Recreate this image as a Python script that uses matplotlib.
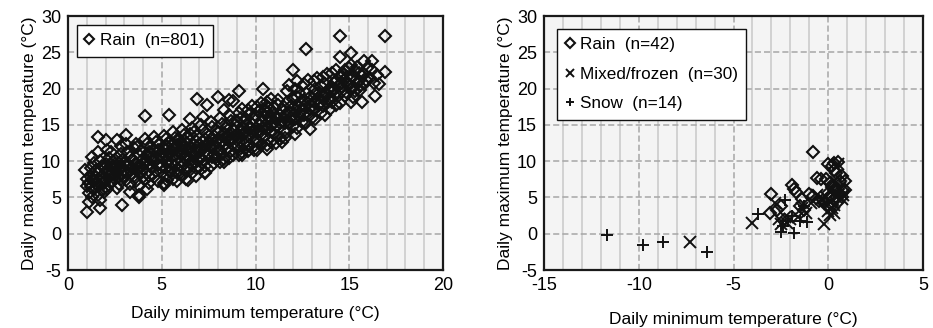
import numpy as np
import matplotlib.pyplot as plt
from matplotlib.ticker import MultipleLocator

plt.rcParams['font.family'] = ['Liberation Sans', 'DejaVu Sans']
plt.rcParams['axes.unicode_minus'] = False

# Left panel: rain days, (min temp, max temp)
rain_left = [
    # outliers / edges
    (16.9, 27.3), (14.5, 27.3), (12.7, 25.4), (15.1, 24.9), (14.5, 24.3), (16.2, 23.8),
    (15.8, 23.8), (16.9, 22.3), (12.0, 22.5), (16.6, 20.6), (16.4, 19.0), (15.7, 18.1),
    (15.1, 18.1), (14.3, 17.7), (12.9, 14.4), (12.1, 13.8), (11.4, 12.7), (10.6, 11.7),
    (10.4, 20.0), (9.1, 19.7), (8.0, 18.9), (8.6, 18.4), (6.9, 18.5), (7.4, 17.7),
    (5.4, 16.4), (4.1, 16.2), (6.5, 15.8), (7.2, 16.1), (3.1, 13.6), (1.6, 13.3),
    (2.0, 12.9), (2.6, 12.9), (1.3, 10.6), (1.6, 11.3), (0.9, 8.8), (1.0, 3.0),
    (1.1, 4.4), (1.7, 3.5), (2.9, 4.0), (3.8, 5.1), (7.3, 8.3), (8.3, 9.9),
    (6.4, 7.4), (5.1, 6.7), (4.2, 6.1), (9.3, 10.8), (9.9, 11.5),
    # band
    (1.0, 6.6), (1.1, 7.0), (1.2, 6.5), (1.0, 7.5), (1.3, 8.2), (1.1, 5.6), (1.4, 6.1),
    (1.2, 9.1), (1.5, 7.8), (1.3, 5.0), (1.4, 9.8), (1.5, 6.9),
    (1.6, 8.5), (1.7, 7.2), (1.8, 6.0), (1.6, 5.3), (1.9, 9.0), (1.7, 10.0), (1.8, 8.0),
    (2.0, 7.4), (1.9, 5.8), (2.0, 9.6), (1.7, 4.7), (2.0, 6.5),
    (2.1, 8.8), (2.2, 7.9), (2.3, 9.5), (2.1, 11.5), (2.4, 8.3), (2.2, 10.4), (2.3, 7.0),
    (2.5, 9.0), (2.4, 10.0), (2.1, 6.2), (2.5, 7.6), (2.3, 11.2),
    (2.6, 8.5), (2.7, 9.8), (2.8, 7.5), (2.6, 10.5), (2.9, 9.2), (2.7, 6.8), (3.0, 8.6),
    (2.8, 11.0), (2.9, 10.1), (3.0, 7.9), (2.6, 6.3), (2.8, 12.1),
    (3.1, 9.5), (3.2, 8.3), (3.3, 10.6), (3.1, 7.4), (3.4, 9.0), (3.2, 11.3), (3.5, 8.0),
    (3.3, 6.8), (3.4, 10.2), (3.5, 11.8), (3.1, 12.3), (3.3, 5.8),
    (3.6, 9.7), (3.7, 8.6), (3.8, 10.9), (3.6, 7.3), (3.9, 9.3), (3.7, 12.0), (4.0, 8.9),
    (3.8, 6.6), (3.9, 11.4), (4.0, 10.3), (3.6, 12.3), (3.8, 5.4),
    (4.1, 9.8), (4.2, 8.4), (4.3, 11.2), (4.1, 7.6), (4.4, 10.5), (4.2, 12.4), (4.5, 9.1),
    (4.3, 7.0), (4.4, 12.0), (4.5, 11.0), (4.1, 13.0), (4.3, 8.0),
    (4.6, 10.0), (4.7, 8.7), (4.8, 11.6), (4.6, 7.8), (4.9, 10.8), (4.7, 12.7), (5.0, 9.4),
    (4.8, 7.2), (4.9, 12.3), (5.0, 11.3), (4.6, 13.3), (4.8, 9.5),
    (5.1, 10.4), (5.2, 9.0), (5.3, 11.9), (5.1, 7.0), (5.4, 11.0), (5.2, 13.0), (5.5, 9.7),
    (5.3, 8.0), (5.4, 12.6), (5.5, 11.5), (5.1, 13.5), (5.3, 7.4), (5.2, 10.8), (5.4, 8.6),
    (5.6, 10.7), (5.7, 9.3), (5.8, 12.2), (5.6, 7.5), (5.9, 11.3), (5.7, 13.2), (6.0, 10.0),
    (5.8, 8.3), (5.9, 12.9), (6.0, 11.7), (5.6, 14.0), (5.8, 7.3), (5.7, 10.2), (5.9, 8.8),
    (6.1, 11.0), (6.2, 9.6), (6.3, 12.5), (6.1, 8.0), (6.4, 11.6), (6.2, 13.6), (6.5, 10.3),
    (6.3, 8.6), (6.4, 13.2), (6.5, 12.0), (6.1, 14.3), (6.3, 7.6), (6.2, 10.6), (6.4, 9.2),
    (6.6, 11.3), (6.7, 9.9), (6.8, 12.8), (6.6, 8.4), (6.9, 11.9), (6.7, 14.0), (7.0, 10.6),
    (6.8, 9.0), (6.9, 13.5), (7.0, 12.3), (6.6, 14.6), (6.8, 8.0), (6.7, 10.9),
    (7.1, 11.6), (7.2, 10.2), (7.3, 13.1), (7.1, 8.9), (7.4, 12.2), (7.2, 14.3), (7.5, 11.0),
    (7.3, 9.4), (7.4, 13.8), (7.5, 12.6), (7.1, 15.0), (7.3, 8.5),
    (7.6, 12.0), (7.7, 10.6), (7.8, 13.5), (7.6, 9.3), (7.9, 12.6), (7.7, 14.7), (8.0, 11.4),
    (7.8, 9.8), (7.9, 14.2), (8.0, 13.0), (7.6, 15.4), (7.8, 11.0),
    (8.1, 12.4), (8.2, 11.0), (8.3, 13.9), (8.1, 9.9), (8.4, 13.0), (8.2, 15.1), (8.5, 11.8),
    (8.3, 10.3), (8.4, 14.6), (8.5, 13.4), (8.1, 16.0), (8.3, 17.0),
    (8.6, 12.8), (8.7, 11.4), (8.8, 14.3), (8.6, 10.4), (8.9, 13.4), (8.7, 15.5), (9.0, 12.2),
    (8.8, 10.8), (8.9, 15.0), (9.0, 13.8), (8.6, 16.4), (8.8, 18.3),
    (9.1, 13.2), (9.2, 11.8), (9.3, 14.7), (9.1, 10.9), (9.4, 13.8), (9.2, 16.0), (9.5, 12.6),
    (9.3, 11.3), (9.4, 15.4), (9.5, 14.2), (9.1, 16.6), (9.3, 17.2),
    (9.6, 13.6), (9.7, 12.2), (9.8, 15.1), (9.6, 11.4), (9.9, 14.2), (9.7, 16.5), (10.0, 13.0),
    (9.8, 11.8), (9.9, 15.8), (10.0, 14.6), (9.6, 17.0), (9.8, 17.6),
    (10.1, 14.0), (10.2, 12.6), (10.3, 15.5), (10.1, 11.6), (10.4, 14.6), (10.2, 16.9),
    (10.5, 13.4), (10.3, 12.2), (10.4, 16.2), (10.5, 15.0), (10.1, 17.4), (10.3, 18.0), (10.6, 17.6),
    (10.6, 14.4), (10.7, 13.0), (10.8, 15.9), (10.6, 12.2), (10.9, 15.0), (10.7, 17.3),
    (11.0, 13.8), (10.8, 12.6), (10.9, 16.6), (11.0, 15.4), (10.6, 18.2), (10.8, 18.5),
    (11.1, 14.8), (11.2, 13.4), (11.3, 16.3), (11.1, 12.5), (11.4, 15.4), (11.2, 17.7),
    (11.5, 14.2), (11.3, 13.0), (11.4, 17.0), (11.5, 16.0), (11.2, 18.4),
    (11.6, 15.2), (11.7, 14.0), (11.8, 16.8), (11.6, 13.2), (11.9, 16.0), (11.7, 18.2),
    (12.0, 14.8), (11.8, 20.5), (11.9, 17.6), (12.0, 16.4), (11.7, 19.6),
    (12.1, 15.8), (12.2, 14.6), (12.3, 17.4), (12.1, 20.0), (12.4, 16.6), (12.2, 18.8),
    (12.5, 15.4), (12.3, 19.4), (12.4, 18.2), (12.5, 17.0), (12.2, 21.0),
    (12.6, 16.4), (12.7, 15.2), (12.8, 18.0), (12.6, 20.6), (12.9, 17.2), (12.7, 19.4),
    (13.0, 16.0), (12.8, 21.2), (12.9, 18.8), (13.0, 17.6),
    (13.1, 17.0), (13.2, 15.8), (13.3, 18.6), (13.1, 21.0), (13.4, 17.8), (13.2, 20.0),
    (13.5, 16.6), (13.3, 21.4), (13.4, 19.4), (13.5, 18.2),
    (13.6, 17.6), (13.7, 16.4), (13.8, 19.2), (13.6, 21.6), (13.9, 18.4), (13.7, 20.6),
    (14.0, 17.2), (13.8, 22.0), (13.9, 20.0), (14.0, 18.8),
    (14.1, 18.2), (14.2, 19.8), (14.3, 21.0), (14.1, 22.2), (14.4, 19.0), (14.2, 20.8),
    (14.5, 18.0), (14.3, 22.6), (14.4, 20.4), (14.5, 21.8),
    (14.6, 19.6), (14.7, 21.2), (14.8, 22.6), (14.6, 20.8), (14.9, 19.4), (14.7, 22.0),
    (15.0, 20.6), (14.8, 19.0), (14.9, 21.6), (15.0, 22.8),
    (15.1, 20.0), (15.2, 21.6), (15.3, 22.4), (15.1, 23.2), (15.4, 20.8), (15.2, 18.8),
    (15.5, 21.0), (15.3, 19.6), (15.4, 23.0),
    (15.6, 20.4), (15.7, 21.8), (15.8, 22.0), (15.6, 19.8), (15.9, 21.2), (16.0, 23.0), (15.8, 20.6),
    (16.1, 21.4), (16.2, 22.6), (16.3, 20.8), (16.5, 21.9),
    # band, dense core
    (1.2, 7.8), (1.4, 7.2), (1.6, 6.6), (1.8, 9.4), (1.5, 8.8), (1.9, 7.0), (2.2, 8.6),
    (2.4, 9.2), (2.6, 9.4), (2.5, 8.0), (2.7, 7.8), (2.9, 8.2), (3.0, 9.8), (3.2, 9.6),
    (3.4, 8.2), (3.5, 10.0), (3.7, 9.6), (3.9, 8.4), (4.0, 9.6), (4.2, 10.8), (4.4, 9.2),
    (4.5, 10.2), (4.7, 10.4), (4.9, 9.0), (5.0, 10.6), (5.1, 11.8), (5.3, 10.0), (5.5, 8.6),
    (5.6, 12.4), (5.8, 11.0), (6.0, 9.2), (6.0, 12.6), (6.2, 11.8), (6.4, 10.4), (6.5, 13.8),
    (6.7, 12.2), (6.9, 10.2), (7.0, 11.4), (7.2, 12.8), (7.4, 11.0), (7.6, 13.0), (7.7, 11.8),
    (7.9, 10.6), (8.0, 14.0), (8.2, 12.8), (8.4, 11.6), (8.5, 14.8), (8.7, 13.2), (8.9, 12.0),
    (9.0, 15.6), (9.2, 14.0), (9.4, 12.4), (9.5, 15.8), (9.7, 14.4), (9.9, 12.8), (10.0, 16.2),
    (10.2, 15.0), (10.4, 13.2), (10.5, 17.0), (10.7, 16.0), (10.9, 14.0), (11.0, 17.4),
    (11.3, 15.2), (11.5, 17.4), (11.8, 15.4), (12.0, 18.6), (12.3, 16.2), (12.6, 18.4),
    (12.9, 16.4), (13.2, 19.2), (13.5, 20.4), (13.8, 18.0), (14.1, 20.2), (14.3, 19.4),
    (14.6, 21.8), (14.9, 20.6), (15.2, 20.2), (15.5, 22.2), (5.2, 12.2), (5.7, 11.6),
    (6.3, 10.8), (6.8, 11.6), (7.3, 12.0), (7.8, 12.4), (8.3, 12.2), (8.8, 13.0), (9.3, 13.6),
    (9.8, 14.0), (10.3, 14.2), (10.8, 14.8), (4.3, 9.6), (3.8, 9.2), (3.3, 8.8), (2.8, 9.0),
    (2.3, 8.2), (1.8, 7.6), (1.3, 7.4), (4.6, 11.4), (5.4, 9.4), (6.1, 12.2), (6.6, 9.6),
    (7.1, 10.4), (7.5, 13.4), (8.1, 11.6), (8.6, 13.8), (9.1, 12.6), (9.6, 15.0), (10.1, 12.8),
    (10.6, 16.6), (11.1, 16.0), (11.6, 16.4), (12.1, 17.0), (12.6, 17.6), (13.1, 18.2),
    (13.6, 19.0), (14.1, 19.6), (14.6, 20.2),
]
rain_l_x = [p[0] for p in rain_left]
rain_l_y = [p[1] for p in rain_left]

# Right panel
rain_r = [
    (-0.8, 11.2), (-3.0, 5.5), (-3.1, 2.9), (-2.7, 3.3), (-2.5, 3.8), (-1.9, 6.7),
    (-1.8, 6.2), (-1.7, 5.8), (-1.5, 3.8), (-1.3, 3.3), (-1.0, 5.5), (-0.8, 5.2),
    (-0.6, 7.7), (-0.4, 7.6), (-0.3, 4.6), (0.0, 9.6), (0.2, 9.4), (0.3, 9.8),
    (0.5, 9.9), (0.3, 8.8), (0.4, 8.3), (0.6, 7.3), (0.9, 7.2), (0.8, 5.9),
    (0.7, 5.0), (0.5, 4.4), (0.2, 4.0), (0.0, 3.8), (0.1, 5.2), (0.3, 6.0),
    (0.5, 6.2), (0.1, 7.0), (-0.2, 4.2), (-0.5, 4.5), (0.6, 5.5), (0.4, 5.1),
    (0.2, 6.5), (0.7, 8.0), (-0.1, 7.5), (0.9, 6.0), (0.3, 4.8), (-1.4, 4.8),
]
mixed_r = [
    (-7.3, -1.2), (-4.0, 1.5), (-2.5, 1.3), (-2.2, 1.5), (-0.2, 1.4), (0.3, 2.8),
    (-2.8, 4.3), (-2.3, 2.3), (-2.0, 2.0), (-1.4, 3.5), (-1.2, 2.9), (-0.9, 4.2),
    (0.0, 3.2), (0.1, 4.5), (0.2, 3.6), (0.4, 5.7), (0.6, 6.3), (0.5, 9.6),
    (0.2, 6.0), (-0.1, 5.0), (0.3, 4.0), (0.7, 4.8), (0.1, 2.6), (-0.4, 4.8),
    (-1.6, 2.3), (-2.6, 2.0), (0.4, 7.1), (-0.6, 5.4), (0.8, 5.3), (0.0, 6.4),
]
snow_r = [
    (-11.7, -0.2), (-9.8, -1.5), (-8.7, -1.1), (-6.4, -2.5), (-3.7, 2.7), (-2.5, 0.3),
    (-1.8, 0.1), (-2.3, 4.6), (-1.5, 1.7), (-1.1, 1.6), (-2.1, 1.7), (-1.9, 2.4),
    (-1.3, 3.8), (-2.4, 1.1),
]

fig = plt.figure(figsize=(9.33, 3.28), dpi=100)
ax1 = fig.add_axes([0.0729, 0.1768, 0.4019, 0.7744])
ax2 = fig.add_axes([0.5831, 0.1768, 0.4062, 0.7744])


def style_axes(ax, xmin, xmax):
    ax.set_facecolor('#f4f4f4')
    ax.set_xlim(xmin, xmax)
    ax.set_ylim(-5, 30)
    ax.xaxis.set_major_locator(MultipleLocator(5))
    ax.xaxis.set_minor_locator(MultipleLocator(1))
    ax.yaxis.set_major_locator(MultipleLocator(5))
    ax.grid(which='minor', axis='x', color='#d2d2d2', linewidth=1.4, linestyle='-')
    ax.grid(which='major', axis='both', color='#a6a6a6', linewidth=1.1, linestyle=(0, (4, 2)))
    ax.set_axisbelow(True)
    ax.tick_params(which='both', length=0, labelsize=13, pad=5)
    for s in ax.spines.values():
        s.set_linewidth(1.6)
        s.set_color('#1a1a1a')
    ax.set_ylabel('Daily maximum temperature (°C)', fontsize=12.5, labelpad=3)
    ax.set_xlabel('Daily minimum temperature (°C)', fontsize=12.5, labelpad=9)


style_axes(ax1, 0, 20)
style_axes(ax2, -15, 5)
ax2.xaxis.labelpad = 13

ax1.plot(rain_l_x, rain_l_y, linestyle='none', marker='D', ms=6.3, mfc='none',
         mec='#111111', mew=1.5, label='Rain  (n=801)')

ax2.plot([p[0] for p in rain_r], [p[1] for p in rain_r], linestyle='none', marker='D',
         ms=6.3, mfc='none', mec='#111111', mew=1.5, label='Rain  (n=42)')
ax2.plot([p[0] for p in mixed_r], [p[1] for p in mixed_r], linestyle='none', marker='x',
         ms=8, mec='#111111', mew=1.4, label='Mixed/frozen  (n=30)')
ax2.plot([p[0] for p in snow_r], [p[1] for p in snow_r], linestyle='none', marker='+',
         ms=8, mec='#111111', mew=1.4, label='Snow  (n=14)')

for ax, pad in ((ax1, 0.5), (ax2, 0.75)):
    leg = ax.legend(loc='upper left', fontsize=12.3, handlelength=0.5, handletextpad=0.35,
                    borderpad=0.5, labelspacing=0.85, fancybox=False, framealpha=1,
                    edgecolor='#111111', borderaxespad=pad, markerscale=0.75)
    leg.get_frame().set_linewidth(1.0)

fig.savefig('out.png', dpi=100)
